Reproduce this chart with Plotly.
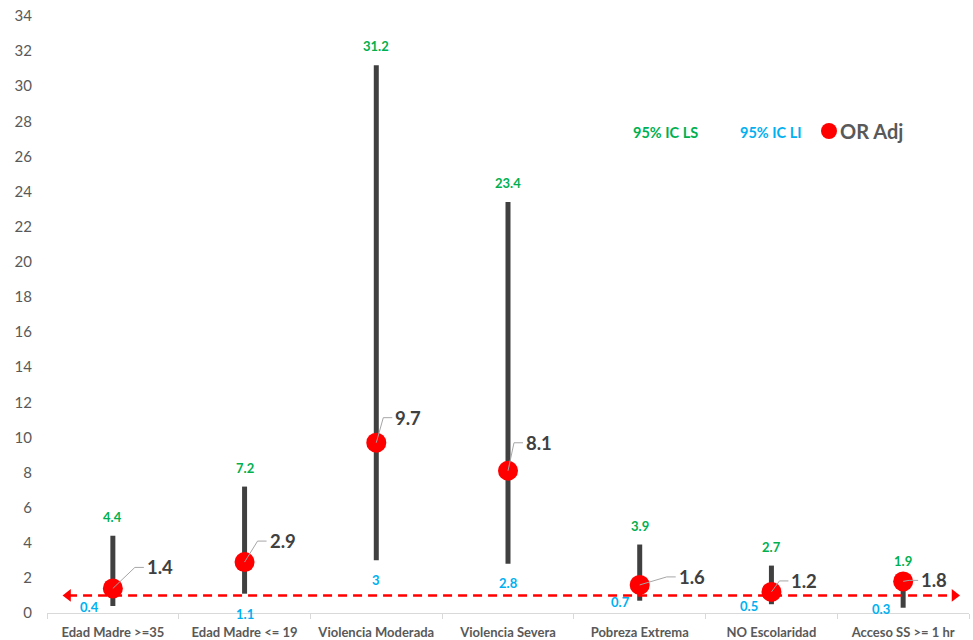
import plotly.graph_objects as go

# Risk factors and their adjusted odds ratios with 95% confidence limits
categories = ["Edad Madre >=35", "Edad Madre <= 19", "Violencia Moderada",
              "Violencia Severa", "Pobreza Extrema", "NO Escolaridad", "Acceso SS >= 1 hr"]
or_adj = [1.4, 2.9, 9.7, 8.1, 1.6, 1.2, 1.8]
ic_ls = [4.4, 7.2, 31.2, 23.4, 3.9, 2.7, 1.9]
ic_li = [0.4, 1.1, 3, 2.8, 0.7, 0.5, 0.3]
or_reference = 1
y_ticks = list(range(0, 35, 2))

# Label placement offsets (pixels, x right / y up)
or_label_offsets = [(47, 21), (38, 21), (32, 25), (31, 28), (52, 8), (33, 11), (31, 1)]
li_label_offsets = [(-23, -1), (0, -20), (0, -20), (0, -19), (-19, -1), (-22, -2), (-22, -1)]

FONT = "Lato"
GRAY_TEXT = "#595959"
DARK = "#404040"
GREEN = "#00B050"
BLUE = "#00B0F0"
RED = "#FF0000"
LEADER = "#A6A6A6"

PLOT_L, PLOT_R, PLOT_T, PLOT_B = 47, 969, 16, 613


def paper_x(px):
    return (px - PLOT_L) / (PLOT_R - PLOT_L)


def paper_y(py):
    return (PLOT_B - py) / (PLOT_B - PLOT_T)


x_idx = list(range(len(categories)))
fig = go.Figure()

# Confidence-interval bars
bar_x, bar_y = [], []
for i, lo, hi in zip(x_idx, ic_li, ic_ls):
    bar_x += [i, i, None]
    bar_y += [lo, hi, None]
fig.add_trace(go.Scatter(x=bar_x, y=bar_y, mode="lines",
                         line=dict(color=DARK, width=5), hoverinfo="skip",
                         showlegend=False))

# Reference line at OR = 1 with arrowheads at both ends
ref_x = [-0.34, 6.39]
fig.add_trace(go.Scatter(x=ref_x, y=[or_reference, or_reference], mode="lines",
                         line=dict(color=RED, width=2.5, dash="9px,6px"),
                         hoverinfo="skip", showlegend=False))
fig.add_trace(go.Scatter(x=ref_x, y=[or_reference, or_reference], mode="markers",
                         marker=dict(symbol=["triangle-left", "triangle-right"],
                                     size=11, color=RED),
                         hoverinfo="skip", showlegend=False))

# Odds ratio markers
fig.add_trace(go.Scatter(x=x_idx, y=or_adj, mode="markers",
                         marker=dict(color=RED, size=20, line=dict(width=0)),
                         name="OR Adj", showlegend=False))

annotations = []
for i, v, (dx, dy) in zip(x_idx, or_adj, or_label_offsets):
    annotations.append(dict(x=i, y=v, xref="x", yref="y", text=f"<b>{v}</b>",
                            showarrow=False, xshift=dx, yshift=dy,
                            font=dict(family=FONT, size=18.5, color=DARK)))
    # elbow leader line from the marker to its label
    end_x, elbow_x = dx - 16, dx - 25
    if elbow_x < 4:
        elbow_x = 4
    fig.add_shape(type="path", xref="x", yref="y", xsizemode="pixel", ysizemode="pixel",
                  xanchor=i, yanchor=v,
                  path=f"M 0,0 L {elbow_x},{dy} L {end_x},{dy}",
                  line=dict(color=LEADER, width=1), layer="above")
for i, v in zip(x_idx, ic_ls):
    annotations.append(dict(x=i, y=v, xref="x", yref="y", text=f"<b>{v}</b>",
                            showarrow=False, yshift=19,
                            font=dict(family=FONT, size=13, color=GREEN)))
for i, v, (dx, dy) in zip(x_idx, ic_li, li_label_offsets):
    annotations.append(dict(x=i, y=v, xref="x", yref="y", text=f"<b>{v}</b>",
                            showarrow=False, xshift=dx, yshift=dy,
                            font=dict(family=FONT, size=13, color=BLUE)))

# Legend drawn as text items
legend_items = [
    (665, 132, "<b>95% IC LS</b>", 14.5, GREEN),
    (770, 132, "<b>95% IC LI</b>", 14.5, BLUE),
    (871, 131, "<b>OR Adj</b>", 20, GRAY_TEXT),
]
for px, py, txt, size, color in legend_items:
    annotations.append(dict(x=paper_x(px), y=paper_y(py), xref="paper", yref="paper",
                            xanchor="center", yanchor="middle", text=txt,
                            showarrow=False,
                            font=dict(family=FONT, size=size, color=color)))

fig.add_shape(type="circle", xref="paper", yref="paper",
              xsizemode="pixel", ysizemode="pixel",
              xanchor=paper_x(829), yanchor=paper_y(131),
              x0=-8, x1=8, y0=-8, y1=8, fillcolor=RED, line=dict(width=0))

fig.update_layout(
    width=973, height=640,
    margin=dict(l=PLOT_L, r=973 - PLOT_R, t=PLOT_T, b=640 - PLOT_B, autoexpand=False),
    paper_bgcolor="white", plot_bgcolor="white",
    annotations=annotations,
    xaxis=dict(range=[-0.5, 6.5], tickmode="array", tickvals=x_idx, ticktext=categories,
               showgrid=False, zeroline=False, showline=True, linecolor="#D9D9D9",
               linewidth=1, ticks="", ticklabelstandoff=7, automargin=False,
               tickfont=dict(family=FONT, size=13, color=GRAY_TEXT, weight="bold"),
               minor=dict(ticks="outside", tickmode="linear", tick0=-0.5, dtick=1,
                          ticklen=5, tickcolor="#D9D9D9", showgrid=False)),
    yaxis=dict(range=[0, 34], tickmode="array", tickvals=y_ticks, showgrid=False,
               zeroline=False, showline=False, ticks="", ticklabelstandoff=14,
               automargin=False,
               tickfont=dict(family=FONT, size=15, color=GRAY_TEXT)),
)

fig.write_html("out.html")
